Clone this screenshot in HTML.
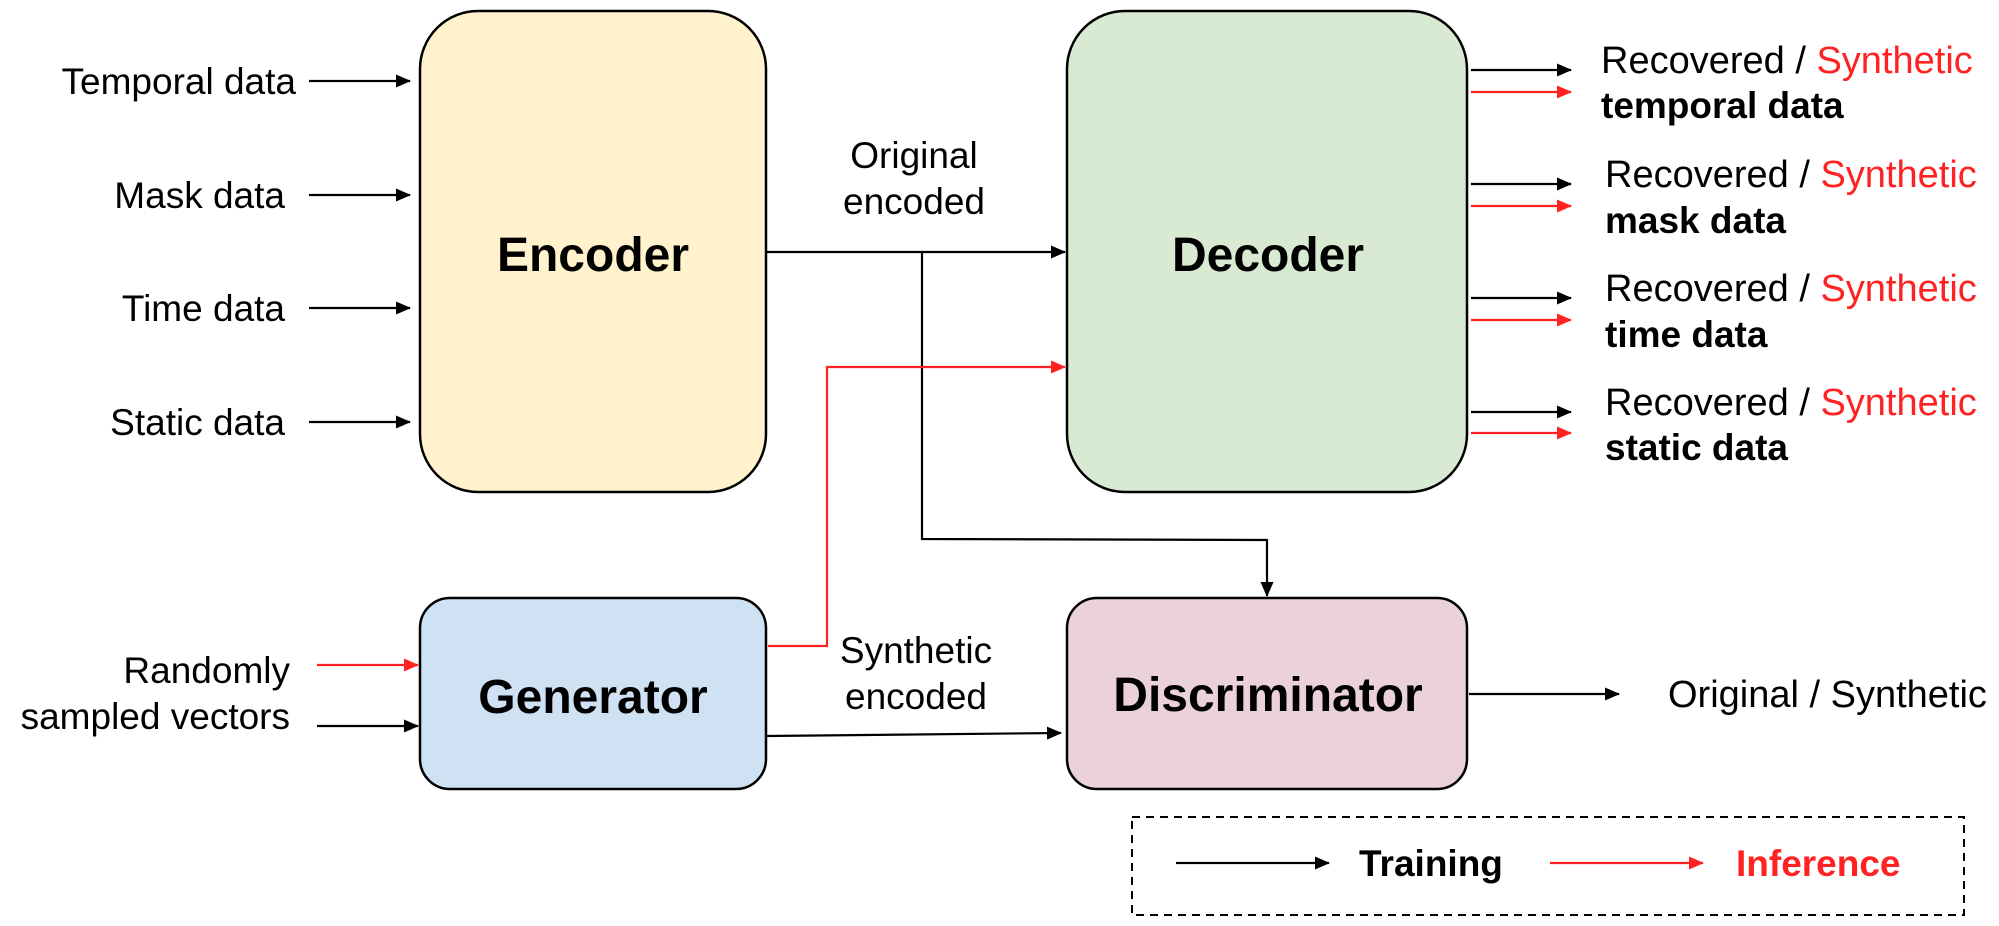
<!DOCTYPE html>
<html><head><meta charset="utf-8"><style>
html,body{margin:0;padding:0;background:#fff;}
svg{display:block;}
text{font-family:"Liberation Sans",Arial,sans-serif;}
</style></head><body>
<svg width="1999" height="926" viewBox="0 0 1999 926" xmlns="http://www.w3.org/2000/svg">
<defs>
<marker id="ab" markerWidth="15" markerHeight="13" refX="14" refY="6.5" orient="auto" markerUnits="userSpaceOnUse"><path d="M0,0 L15,6.5 L0,13 z" fill="#000"/></marker>
<marker id="ar" markerWidth="15" markerHeight="13" refX="14" refY="6.5" orient="auto" markerUnits="userSpaceOnUse"><path d="M0,0 L15,6.5 L0,13 z" fill="#f22"/></marker>
</defs>
<rect x="420" y="11" width="346" height="481" rx="58" fill="#fff2cc" stroke="#000" stroke-width="2.5"/>
<rect x="1067" y="11" width="400" height="481" rx="58" fill="#d9ead3" stroke="#000" stroke-width="2.5"/>
<rect x="420" y="598" width="346" height="191" rx="30" fill="#cfe2f3" stroke="#000" stroke-width="2.5"/>
<rect x="1067" y="598" width="400" height="191" rx="30" fill="#ead1dc" stroke="#000" stroke-width="2.5"/>
<g font-weight="bold" font-size="48" text-anchor="middle" fill="#000">
<text x="593" y="271">Encoder</text>
<text x="1268" y="271">Decoder</text>
<text x="593" y="713">Generator</text>
<text x="1268" y="711">Discriminator</text>
</g>
<g stroke="#000" stroke-width="2.2" fill="none">
<line x1="309" y1="81" x2="410" y2="81" marker-end="url(#ab)"/>
<line x1="309" y1="195" x2="410" y2="195" marker-end="url(#ab)"/>
<line x1="309" y1="308" x2="410" y2="308" marker-end="url(#ab)"/>
<line x1="309" y1="422" x2="410" y2="422" marker-end="url(#ab)"/>
<line x1="317" y1="726" x2="418" y2="726" marker-end="url(#ab)"/>
<line x1="766" y1="252" x2="1065" y2="252" marker-end="url(#ab)"/>
<polyline points="922,252 922,539 1267,540 1267,596" marker-end="url(#ab)"/>
<line x1="766" y1="736" x2="1061" y2="733" marker-end="url(#ab)"/>
<line x1="1469" y1="694" x2="1619" y2="694" marker-end="url(#ab)"/>
<line x1="1471" y1="70" x2="1571" y2="70" marker-end="url(#ab)"/>
<line x1="1471" y1="184" x2="1571" y2="184" marker-end="url(#ab)"/>
<line x1="1471" y1="298" x2="1571" y2="298" marker-end="url(#ab)"/>
<line x1="1471" y1="412" x2="1571" y2="412" marker-end="url(#ab)"/>
<line x1="1176" y1="863" x2="1329" y2="863" marker-end="url(#ab)"/>
</g>
<g stroke="#f22" stroke-width="2.2" fill="none">
<line x1="317" y1="665" x2="418" y2="665" marker-end="url(#ar)"/>
<polyline points="768,646 827,646 827,367 1065,367" marker-end="url(#ar)"/>
<line x1="1471" y1="92" x2="1571" y2="92" marker-end="url(#ar)"/>
<line x1="1471" y1="206" x2="1571" y2="206" marker-end="url(#ar)"/>
<line x1="1471" y1="320" x2="1571" y2="320" marker-end="url(#ar)"/>
<line x1="1471" y1="433" x2="1571" y2="433" marker-end="url(#ar)"/>
<line x1="1550" y1="863" x2="1703" y2="863" marker-end="url(#ar)"/>
</g>
<rect x="1132" y="817" width="832" height="98" fill="none" stroke="#000" stroke-width="2" stroke-dasharray="8,6"/>
<g font-size="37" fill="#000">
<text x="296" y="94" text-anchor="end">Temporal data</text>
<text x="285" y="208" text-anchor="end">Mask data</text>
<text x="285" y="321" text-anchor="end">Time data</text>
<text x="285" y="435" text-anchor="end">Static data</text>
<text x="290" y="683" text-anchor="end">Randomly</text>
<text x="290" y="729" text-anchor="end">sampled vectors</text>
<text x="914" y="168" text-anchor="middle">Original</text>
<text x="914" y="214" text-anchor="middle">encoded</text>
<text x="916" y="663" text-anchor="middle">Synthetic</text>
<text x="916" y="709" text-anchor="middle">encoded</text>
</g>
<g font-size="38" fill="#000">
<text x="1668" y="707">Original / Synthetic</text>
<text x="1601" y="73">Recovered / <tspan fill="#f22">Synthetic</tspan></text>
<text x="1605" y="187">Recovered / <tspan fill="#f22">Synthetic</tspan></text>
<text x="1605" y="301">Recovered / <tspan fill="#f22">Synthetic</tspan></text>
<text x="1605" y="415">Recovered / <tspan fill="#f22">Synthetic</tspan></text>
</g>
<g font-size="37" font-weight="bold" fill="#000">
<text x="1601" y="118">temporal data</text>
<text x="1605" y="233">mask data</text>
<text x="1605" y="347">time data</text>
<text x="1605" y="460">static data</text>
<text x="1359" y="876" font-size="37">Training</text>
<text x="1736" y="876" font-size="37" fill="#f22">Inference</text>
</g>
</svg>
</body></html>
